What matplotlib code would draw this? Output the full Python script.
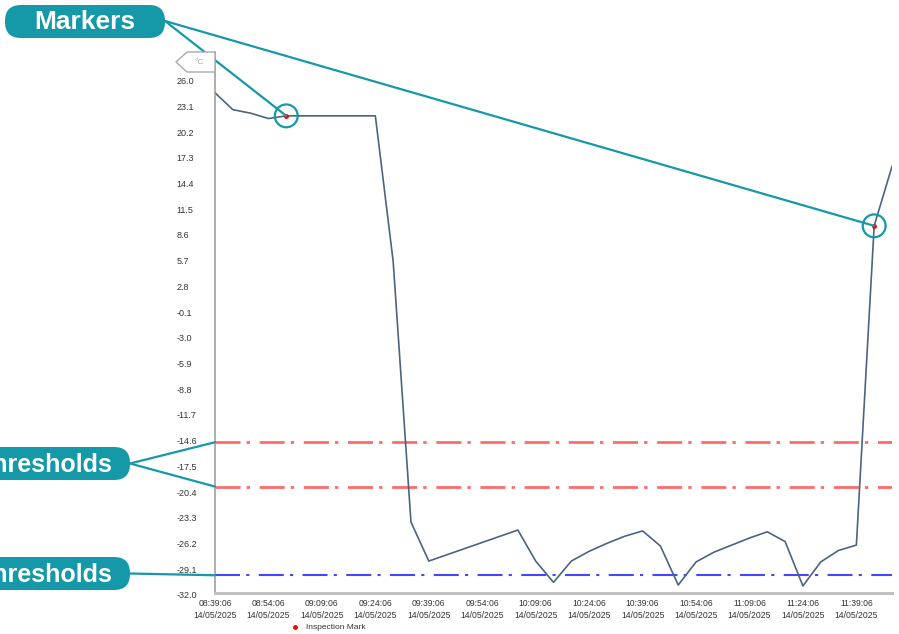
import pandas as pd
import numpy as np
import matplotlib
matplotlib.use("Agg")
import matplotlib.pyplot as plt
import matplotlib.transforms as mtrans
from matplotlib.patches import FancyBboxPatch, Polygon, ConnectionPatch

plt.rcParams['font.family'] = ['Liberation Sans', 'DejaVu Sans']

# temperature readings, one every 5 minutes from 08:39:06
temps = [24.4, 22.5, 22.1, 21.5, 21.8, 21.8, 21.8, 21.8, 21.8, 21.8,
         5.4, -24.0, -28.4, -27.7, -27.0, -26.3, -25.6, -24.9, -28.4, -30.8,
         -28.4, -27.3, -26.4, -25.6, -25.0, -26.7, -31.1, -28.5, -27.4, -26.6,
         -25.8, -25.1, -26.2, -31.2, -28.5, -27.2, -26.6, 9.4, 16.1]
mark_idx = [4, 37]
upper_thresholds = [-15.0, -20.0]
lower_thresholds = [-30.0]
ytick_vals = [26.0, 23.1, 20.2, 17.3, 14.4, 11.5, 8.6, 5.7, 2.8, -0.1, -3.0,
              -5.9, -8.8, -11.7, -14.6, -17.5, -20.4, -23.3, -26.2, -29.1, -32.0]

times = pd.date_range("2025-05-14 08:39:06", periods=len(temps), freq="5min")
x = np.arange(len(temps)) * 5.0
xtick_pos = x[::3]
xtick_labels = [t.strftime("%H:%M:%S\n%d/%m/%Y") for t in times[::3]]

W, H = 899, 634
fig = plt.figure(figsize=(W / 100, H / 100), dpi=100)
ax = fig.add_axes([215 / W, 1 - 593 / H, (892 - 215) / W, (593 - 52) / H])

teal = '#1598a8'

for th in upper_thresholds:
    ax.axhline(th, color='#ff6a6a', lw=2.0, ls=(0, (9, 2.2, 1.2, 3.5)), zorder=1)
for th in lower_thresholds:
    ax.axhline(th, color='#4646ff', lw=1.5, ls=(0, (12, 3, 1.5, 4.5)), zorder=1)

ax.plot(x, temps, color='#4a6482', lw=1.2, zorder=2)
mx = [x[i] for i in mark_idx]
my = [temps[i] for i in mark_idx]
ax.plot(mx, my, 'o', color='red', ms=2.5, zorder=3, label='Inspection Mark')
ax.scatter(mx, my, s=270, facecolors='none', edgecolors=teal, linewidths=1.6, zorder=4, clip_on=False)

ax.set_xlim(x[0], x[-1])
ax.set_ylim(-32, 29)
ax.set_yticks(ytick_vals)
ax.set_yticklabels(['%.1f' % v for v in ytick_vals], ha='left')
ax.set_xticks(xtick_pos)
ax.set_xticklabels(xtick_labels, linespacing=1.35)
ax.tick_params(axis='y', length=0, pad=27.5, labelsize=6.5, labelcolor='#333333')
ax.tick_params(axis='x', length=0, pad=4.5, labelsize=6.2, labelcolor='#333333')
shift = mtrans.ScaledTranslation(0, -2 / 100, fig.dpi_scale_trans)
for lab in ax.get_yticklabels():
    lab.set_transform(lab.get_transform() + shift)
for s in ['top', 'right']:
    ax.spines[s].set_visible(False)
ax.spines['left'].set_color('#999999')
ax.spines['left'].set_linewidth(1.1)
ax.spines['bottom'].set_color('#c0c0c0')
ax.spines['bottom'].set_linewidth(2.2)

fig.legend(loc='center left', bbox_to_anchor=(283 / W, 1 - 627.5 / H), frameon=False,
           fontsize=6, handlelength=1, handletextpad=0.8, labelcolor='#333333')

# overlay in pixel coords for the callouts
ov = fig.add_axes([0, 0, 1, 1], zorder=10)
ov.set_xlim(0, W)
ov.set_ylim(H, 0)
ov.axis('off')

ov.add_patch(Polygon([(176, 62), (187, 52), (215, 52), (215, 72), (187, 72)],
                     closed=True, fc='white', ec='#aaaaaa', lw=1.0))
ov.text(199, 62.5, '°C', fontsize=6, color='#aaaaaa', ha='center', va='center')

ov.add_patch(FancyBboxPatch((5, 5), 160, 33, boxstyle="round,pad=0,rounding_size=16",
                            fc=teal, ec='none'))
ov.text(85, 22, 'Markers', fontsize=19, fontweight='bold', color='white', ha='center', va='center')
for (px, py) in zip(mx, my):
    cp = ConnectionPatch((165, 21), (px, py), coordsA=ov.transData, coordsB=ax.transData,
                         color=teal, lw=1.6, shrinkB=0)
    fig.add_artist(cp)

boxes = [(447, 480, upper_thresholds), (557, 590, lower_thresholds)]
for (y0, y1, ths) in boxes:
    ov.add_patch(FancyBboxPatch((-40, y0), 170, y1 - y0, boxstyle="round,pad=0,rounding_size=16",
                                fc=teal, ec='none', clip_on=False))
    ov.text(113, (y0 + y1) / 2 + 1, 'Thresholds', fontsize=18, fontweight='bold', color='white',
            ha='right', va='center')
    for th in ths:
        cp = ConnectionPatch((130, (y0 + y1) / 2), (x[0], th), coordsA=ov.transData,
                             coordsB=ax.transData, color=teal, lw=1.6)
        fig.add_artist(cp)

fig.savefig('out.png', dpi=100)
